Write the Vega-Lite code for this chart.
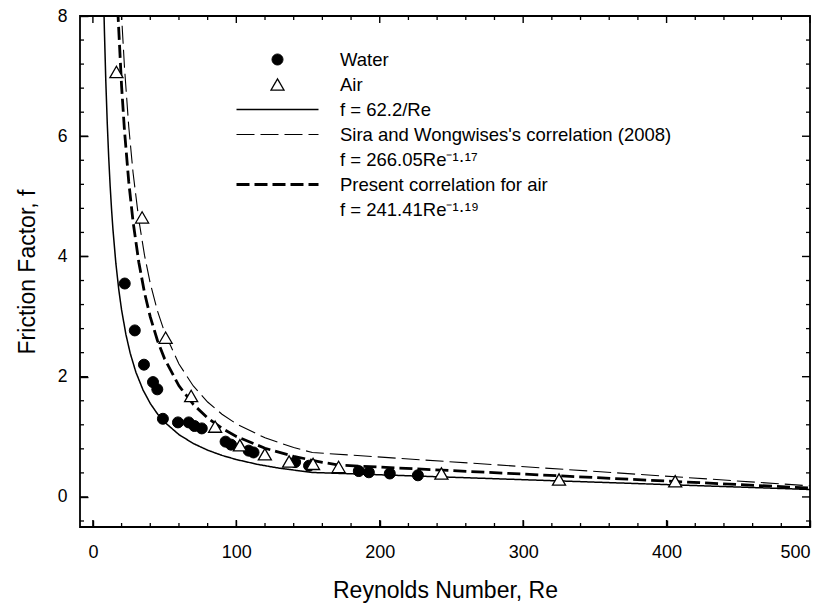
{
  "$schema": "https://vega.github.io/schema/vega-lite/v6.json",
  "width": 730,
  "height": 511,
  "autosize": {"type": "none"},
  "padding": {"left": 80, "top": 16, "right": 18, "bottom": 77},
  "config": {
    "font": "Liberation Sans",
    "view": {"stroke": "black", "strokeWidth": 1.8},
    "axis": {"domain": false, "grid": false, "ticks": true, "tickColor": "black", "tickWidth": 1.3, "labelColor": "black", "titleColor": "black", "titleFontWeight": "normal", "labelFont": "Liberation Sans", "titleFont": "Liberation Sans", "zindex": 2},
    "legend": {"clipHeight": 25, "rowPadding": 0, "labelOffset": 20, "labelFontSize": 18.5, "labelLimit": 600, "labelColor": "black", "labelFont": "Liberation Sans", "padding": 0, "zindex": 3}
  },
  "datasets": {
    "xmajor": [{"v": 0}, {"v": 100}, {"v": 200}, {"v": 300}, {"v": 400}, {"v": 500}],
    "xminor": [{"v": 20}, {"v": 40}, {"v": 60}, {"v": 80}, {"v": 120}, {"v": 140}, {"v": 160}, {"v": 180}, {"v": 220}, {"v": 240}, {"v": 260}, {"v": 280}, {"v": 320}, {"v": 340}, {"v": 360}, {"v": 380}, {"v": 420}, {"v": 440}, {"v": 460}, {"v": 480}],
    "ymajor": [{"v": 0}, {"v": 2}, {"v": 4}, {"v": 6}, {"v": 8}],
    "yminor": [{"v": -0.4}, {"v": 0.4}, {"v": 0.8}, {"v": 1.2}, {"v": 1.6}, {"v": 2.4}, {"v": 2.8}, {"v": 3.2}, {"v": 3.6}, {"v": 4.4}, {"v": 4.8}, {"v": 5.2}, {"v": 5.6}, {"v": 6.4}, {"v": 6.8}, {"v": 7.2}, {"v": 7.6}]
  },
  "data": {
    "values": [
      {"series": "Water", "Re": 22.2, "f": 3.55},
      {"series": "Water", "Re": 29.2, "f": 2.77},
      {"series": "Water", "Re": 35.6, "f": 2.20},
      {"series": "Water", "Re": 41.9, "f": 1.91},
      {"series": "Water", "Re": 44.9, "f": 1.79},
      {"series": "Water", "Re": 48.8, "f": 1.30},
      {"series": "Water", "Re": 59.3, "f": 1.24},
      {"series": "Water", "Re": 66.8, "f": 1.24},
      {"series": "Water", "Re": 70.8, "f": 1.18},
      {"series": "Water", "Re": 75.9, "f": 1.14},
      {"series": "Water", "Re": 92.5, "f": 0.92},
      {"series": "Water", "Re": 96.3, "f": 0.87},
      {"series": "Water", "Re": 108.6, "f": 0.77},
      {"series": "Water", "Re": 112, "f": 0.74},
      {"series": "Water", "Re": 141, "f": 0.58},
      {"series": "Water", "Re": 150.7, "f": 0.52},
      {"series": "Water", "Re": 185.4, "f": 0.43},
      {"series": "Water", "Re": 192.4, "f": 0.41},
      {"series": "Water", "Re": 207, "f": 0.39},
      {"series": "Water", "Re": 226.6, "f": 0.36},
      {"series": "Air", "Re": 16.4, "f": 7.07},
      {"series": "Air", "Re": 34.3, "f": 4.65},
      {"series": "Air", "Re": 50.7, "f": 2.65},
      {"series": "Air", "Re": 68.5, "f": 1.68},
      {"series": "Air", "Re": 85.2, "f": 1.17},
      {"series": "Air", "Re": 102.5, "f": 0.86},
      {"series": "Air", "Re": 119.9, "f": 0.71},
      {"series": "Air", "Re": 136.8, "f": 0.59},
      {"series": "Air", "Re": 153.5, "f": 0.55},
      {"series": "Air", "Re": 171.3, "f": 0.50},
      {"series": "Air", "Re": 243, "f": 0.39},
      {"series": "Air", "Re": 325, "f": 0.29},
      {"series": "Air", "Re": 406, "f": 0.26},
      {"series": "f = 62.2/Re", "Re": 7.5, "f": 8.293},
      {"series": "f = 62.2/Re", "Re": 8, "f": 7.775},
      {"series": "f = 62.2/Re", "Re": 9, "f": 6.911},
      {"series": "f = 62.2/Re", "Re": 10, "f": 6.22},
      {"series": "f = 62.2/Re", "Re": 11, "f": 5.655},
      {"series": "f = 62.2/Re", "Re": 12, "f": 5.183},
      {"series": "f = 62.2/Re", "Re": 13, "f": 4.785},
      {"series": "f = 62.2/Re", "Re": 14, "f": 4.443},
      {"series": "f = 62.2/Re", "Re": 16, "f": 3.888},
      {"series": "f = 62.2/Re", "Re": 18, "f": 3.456},
      {"series": "f = 62.2/Re", "Re": 20, "f": 3.11},
      {"series": "f = 62.2/Re", "Re": 23, "f": 2.704},
      {"series": "f = 62.2/Re", "Re": 26, "f": 2.392},
      {"series": "f = 62.2/Re", "Re": 30, "f": 2.073},
      {"series": "f = 62.2/Re", "Re": 35, "f": 1.777},
      {"series": "f = 62.2/Re", "Re": 40, "f": 1.555},
      {"series": "f = 62.2/Re", "Re": 45, "f": 1.382},
      {"series": "f = 62.2/Re", "Re": 50, "f": 1.244},
      {"series": "f = 62.2/Re", "Re": 60, "f": 1.037},
      {"series": "f = 62.2/Re", "Re": 70, "f": 0.889},
      {"series": "f = 62.2/Re", "Re": 80, "f": 0.778},
      {"series": "f = 62.2/Re", "Re": 90, "f": 0.691},
      {"series": "f = 62.2/Re", "Re": 100, "f": 0.622},
      {"series": "f = 62.2/Re", "Re": 115, "f": 0.541},
      {"series": "f = 62.2/Re", "Re": 130, "f": 0.478},
      {"series": "f = 62.2/Re", "Re": 153, "f": 0.407},
      {"series": "f = 62.2/Re", "Re": 500, "f": 0.124},
      {"series": "Sira and Wongwises's correlation (2008)", "Re": 19.5, "f": 8.235},
      {"series": "Sira and Wongwises's correlation (2008)", "Re": 20, "f": 7.995},
      {"series": "Sira and Wongwises's correlation (2008)", "Re": 22, "f": 7.152},
      {"series": "Sira and Wongwises's correlation (2008)", "Re": 25, "f": 6.157},
      {"series": "Sira and Wongwises's correlation (2008)", "Re": 28, "f": 5.393},
      {"series": "Sira and Wongwises's correlation (2008)", "Re": 32, "f": 4.613},
      {"series": "Sira and Wongwises's correlation (2008)", "Re": 36, "f": 4.018},
      {"series": "Sira and Wongwises's correlation (2008)", "Re": 40, "f": 3.553},
      {"series": "Sira and Wongwises's correlation (2008)", "Re": 45, "f": 3.095},
      {"series": "Sira and Wongwises's correlation (2008)", "Re": 50, "f": 2.736},
      {"series": "Sira and Wongwises's correlation (2008)", "Re": 60, "f": 2.211},
      {"series": "Sira and Wongwises's correlation (2008)", "Re": 70, "f": 1.846},
      {"series": "Sira and Wongwises's correlation (2008)", "Re": 80, "f": 1.579},
      {"series": "Sira and Wongwises's correlation (2008)", "Re": 90, "f": 1.376},
      {"series": "Sira and Wongwises's correlation (2008)", "Re": 100, "f": 1.216},
      {"series": "Sira and Wongwises's correlation (2008)", "Re": 120, "f": 0.983},
      {"series": "Sira and Wongwises's correlation (2008)", "Re": 140, "f": 0.821},
      {"series": "Sira and Wongwises's correlation (2008)", "Re": 153, "f": 0.739},
      {"series": "Sira and Wongwises's correlation (2008)", "Re": 500, "f": 0.185},
      {"series": "Present correlation for air", "Re": 17.3, "f": 8.118},
      {"series": "Present correlation for air", "Re": 20, "f": 6.832},
      {"series": "Present correlation for air", "Re": 22, "f": 6.099},
      {"series": "Present correlation for air", "Re": 25, "f": 5.239},
      {"series": "Present correlation for air", "Re": 28, "f": 4.578},
      {"series": "Present correlation for air", "Re": 32, "f": 3.905},
      {"series": "Present correlation for air", "Re": 36, "f": 3.395},
      {"series": "Present correlation for air", "Re": 40, "f": 2.994},
      {"series": "Present correlation for air", "Re": 45, "f": 2.603},
      {"series": "Present correlation for air", "Re": 50, "f": 2.297},
      {"series": "Present correlation for air", "Re": 60, "f": 1.848},
      {"series": "Present correlation for air", "Re": 70, "f": 1.539},
      {"series": "Present correlation for air", "Re": 80, "f": 1.312},
      {"series": "Present correlation for air", "Re": 90, "f": 1.141},
      {"series": "Present correlation for air", "Re": 100, "f": 1.007},
      {"series": "Present correlation for air", "Re": 120, "f": 0.810},
      {"series": "Present correlation for air", "Re": 140, "f": 0.675},
      {"series": "Present correlation for air", "Re": 160, "f": 0.575},
      {"series": "Present correlation for air", "Re": 171.5, "f": 0.530},
      {"series": "Present correlation for air", "Re": 500, "f": 0.148}
    ]
  },
  "layer": [
    {
      "transform": [{"filter": {"field": "series", "equal": "f = 62.2/Re"}}],
      "mark": {"type": "line", "color": "black", "clip": true},
      "encoding": {
        "x": {"field": "Re", "type": "quantitative", "scale": {"domain": [-9, 500], "nice": false, "zero": false},
              "axis": {"orient": "bottom", "values": [0, 100, 200, 300, 400, 500], "ticks": true, "offset": -7, "tickSize": 7, "tickColor": "black", "tickWidth": 1.4, "labelPadding": 16, "labelFontSize": 18, "title": "Reynolds Number, Re", "titleFontSize": 23, "titleBaseline": "alphabetic", "titleY": 77}},
        "y": {"field": "f", "type": "quantitative", "scale": {"domain": [-0.5, 8], "nice": false, "zero": false},
              "axis": {"orient": "left", "values": [0, 2, 4, 6, 8], "ticks": true, "offset": -8, "tickSize": 8, "tickColor": "black", "tickWidth": 1.4, "labelPadding": 13, "labelFontSize": 17.5, "title": "Friction Factor, f", "titleFontSize": 23, "titleBaseline": "alphabetic", "titleX": -54}},
        "strokeDash": {"field": "series", "type": "nominal",
          "scale": {"domain": ["Water", "Air", "f = 62.2/Re", "Sira and Wongwises's correlation (2008)", "f = 266.05Re⁻¹·¹⁷", "Present correlation for air", "f = 241.41Re⁻¹·¹⁹"],
                    "range": [[1, 0], [1, 0], [1, 0], [18, 6], [1, 0], [13, 5], [1, 0]]},
          "legend": {"orient": "none", "legendX": 155, "legendY": 31, "title": null}},
        "strokeWidth": {"field": "series", "type": "nominal",
          "scale": {"type": "ordinal", "domain": ["Water", "Air", "f = 62.2/Re", "Sira and Wongwises's correlation (2008)", "f = 266.05Re⁻¹·¹⁷", "Present correlation for air", "f = 241.41Re⁻¹·¹⁹"],
                    "range": [1, 1.3, 1.5, 1.1, 0, 2.8, 0]},
          "legend": {"orient": "none", "legendX": 155, "legendY": 31, "title": null}}
      }
    },
    {
      "data": {"name": "xmajor"},
      "mark": {"type": "tick", "orient": "vertical", "size": 7, "thickness": 1.4, "color": "black", "opacity": 1, "yOffset": -3.5},
      "encoding": {
        "x": {"field": "v", "type": "quantitative", "scale": {"domain": [-9, 500], "nice": false, "zero": false}, "axis": null},
        "y": {"datum": -0.5, "type": "quantitative", "scale": {"domain": [-0.5, 8], "nice": false, "zero": false}, "axis": null}
      }
    },
    {
      "data": {"name": "xmajor"},
      "mark": {"type": "tick", "orient": "vertical", "size": 7, "thickness": 1.4, "color": "black", "opacity": 1, "yOffset": 3.5},
      "encoding": {
        "x": {"field": "v", "type": "quantitative", "scale": {"domain": [-9, 500], "nice": false, "zero": false}, "axis": null},
        "y": {"datum": 8, "type": "quantitative", "scale": {"domain": [-0.5, 8], "nice": false, "zero": false}, "axis": null}
      }
    },
    {
      "data": {"name": "xminor"},
      "mark": {"type": "tick", "orient": "vertical", "size": 4, "thickness": 1.3, "color": "black", "opacity": 1, "yOffset": -2},
      "encoding": {
        "x": {"field": "v", "type": "quantitative", "scale": {"domain": [-9, 500], "nice": false, "zero": false}, "axis": null},
        "y": {"datum": -0.5, "type": "quantitative", "scale": {"domain": [-0.5, 8], "nice": false, "zero": false}, "axis": null}
      }
    },
    {
      "data": {"name": "xminor"},
      "mark": {"type": "tick", "orient": "vertical", "size": 4, "thickness": 1.3, "color": "black", "opacity": 1, "yOffset": 2},
      "encoding": {
        "x": {"field": "v", "type": "quantitative", "scale": {"domain": [-9, 500], "nice": false, "zero": false}, "axis": null},
        "y": {"datum": 8, "type": "quantitative", "scale": {"domain": [-0.5, 8], "nice": false, "zero": false}, "axis": null}
      }
    },
    {
      "data": {"name": "ymajor"},
      "mark": {"type": "tick", "orient": "horizontal", "size": 8, "thickness": 1.4, "color": "black", "opacity": 1, "xOffset": 4},
      "encoding": {
        "x": {"datum": -9, "type": "quantitative", "scale": {"domain": [-9, 500], "nice": false, "zero": false}, "axis": null},
        "y": {"field": "v", "type": "quantitative", "scale": {"domain": [-0.5, 8], "nice": false, "zero": false}, "axis": null}
      }
    },
    {
      "data": {"name": "ymajor"},
      "mark": {"type": "tick", "orient": "horizontal", "size": 8, "thickness": 1.4, "color": "black", "opacity": 1, "xOffset": -4},
      "encoding": {
        "x": {"datum": 500, "type": "quantitative", "scale": {"domain": [-9, 500], "nice": false, "zero": false}, "axis": null},
        "y": {"field": "v", "type": "quantitative", "scale": {"domain": [-0.5, 8], "nice": false, "zero": false}, "axis": null}
      }
    },
    {
      "data": {"name": "yminor"},
      "mark": {"type": "tick", "orient": "horizontal", "size": 4, "thickness": 1.3, "color": "black", "opacity": 1, "xOffset": 2},
      "encoding": {
        "x": {"datum": -9, "type": "quantitative", "scale": {"domain": [-9, 500], "nice": false, "zero": false}, "axis": null},
        "y": {"field": "v", "type": "quantitative", "scale": {"domain": [-0.5, 8], "nice": false, "zero": false}, "axis": null}
      }
    },
    {
      "data": {"name": "yminor"},
      "mark": {"type": "tick", "orient": "horizontal", "size": 4, "thickness": 1.3, "color": "black", "opacity": 1, "xOffset": -2},
      "encoding": {
        "x": {"datum": 500, "type": "quantitative", "scale": {"domain": [-9, 500], "nice": false, "zero": false}, "axis": null},
        "y": {"field": "v", "type": "quantitative", "scale": {"domain": [-0.5, 8], "nice": false, "zero": false}, "axis": null}
      }
    },
    {
      "transform": [{"filter": {"field": "series", "equal": "Sira and Wongwises's correlation (2008)"}}],
      "mark": {"type": "line", "color": "black", "clip": true},
      "encoding": {
        "x": {"field": "Re", "type": "quantitative", "scale": {"domain": [-9, 500], "nice": false, "zero": false}, "axis": null},
        "y": {"field": "f", "type": "quantitative", "scale": {"domain": [-0.5, 8], "nice": false, "zero": false}, "axis": null},
        "strokeDash": {"field": "series", "type": "nominal",
          "scale": {"domain": ["Water", "Air", "f = 62.2/Re", "Sira and Wongwises's correlation (2008)", "f = 266.05Re⁻¹·¹⁷", "Present correlation for air", "f = 241.41Re⁻¹·¹⁹"],
                    "range": [[1, 0], [1, 0], [1, 0], [18, 6], [1, 0], [13, 5], [1, 0]]},
          "legend": {"orient": "none", "legendX": 155, "legendY": 31, "title": null}},
        "strokeWidth": {"field": "series", "type": "nominal",
          "scale": {"type": "ordinal", "domain": ["Water", "Air", "f = 62.2/Re", "Sira and Wongwises's correlation (2008)", "f = 266.05Re⁻¹·¹⁷", "Present correlation for air", "f = 241.41Re⁻¹·¹⁹"],
                    "range": [1, 1.3, 1.5, 1.1, 0, 2.8, 0]},
          "legend": {"orient": "none", "legendX": 155, "legendY": 31, "title": null}}
      }
    },
    {
      "transform": [{"filter": {"field": "series", "equal": "Present correlation for air"}}],
      "mark": {"type": "line", "color": "black", "clip": true},
      "encoding": {
        "x": {"field": "Re", "type": "quantitative", "scale": {"domain": [-9, 500], "nice": false, "zero": false}, "axis": null},
        "y": {"field": "f", "type": "quantitative", "scale": {"domain": [-0.5, 8], "nice": false, "zero": false}, "axis": null},
        "strokeDash": {"field": "series", "type": "nominal",
          "scale": {"domain": ["Water", "Air", "f = 62.2/Re", "Sira and Wongwises's correlation (2008)", "f = 266.05Re⁻¹·¹⁷", "Present correlation for air", "f = 241.41Re⁻¹·¹⁹"],
                    "range": [[1, 0], [1, 0], [1, 0], [18, 6], [1, 0], [13, 5], [1, 0]]},
          "legend": {"orient": "none", "legendX": 155, "legendY": 31, "title": null}},
        "strokeWidth": {"field": "series", "type": "nominal",
          "scale": {"type": "ordinal", "domain": ["Water", "Air", "f = 62.2/Re", "Sira and Wongwises's correlation (2008)", "f = 266.05Re⁻¹·¹⁷", "Present correlation for air", "f = 241.41Re⁻¹·¹⁹"],
                    "range": [1, 1.3, 1.5, 1.1, 0, 2.8, 0]},
          "legend": {"orient": "none", "legendX": 155, "legendY": 31, "title": null}}
      }
    },
    {
      "transform": [{"filter": {"field": "series", "equal": "Water"}}],
      "mark": {"type": "point", "stroke": "black", "strokeWidth": 1, "opacity": 1},
      "encoding": {
        "x": {"field": "Re", "type": "quantitative", "scale": {"domain": [-9, 500], "nice": false, "zero": false}, "axis": null},
        "y": {"field": "f", "type": "quantitative", "scale": {"domain": [-0.5, 8], "nice": false, "zero": false}, "axis": null},
        "shape": {"field": "series", "type": "nominal",
          "scale": {"domain": ["Water", "Air", "f = 62.2/Re", "Sira and Wongwises's correlation (2008)", "f = 266.05Re⁻¹·¹⁷", "Present correlation for air", "f = 241.41Re⁻¹·¹⁹"],
                    "range": ["circle", "triangle-up", "stroke", "stroke", "stroke", "stroke", "stroke"]},
          "legend": {"orient": "none", "legendX": 155, "legendY": 31, "title": null, "encoding": {"symbols": {"update": {"fill": {"scale": "fill", "field": "value"}}}}}},
        "fill": {"field": "series", "type": "nominal",
          "scale": {"domain": ["Water", "Air", "f = 62.2/Re", "Sira and Wongwises's correlation (2008)", "f = 266.05Re⁻¹·¹⁷", "Present correlation for air", "f = 241.41Re⁻¹·¹⁹"],
                    "range": ["black", "white", "transparent", "transparent", "transparent", "transparent", "transparent"]},
          "legend": {"orient": "none", "legendX": 155, "legendY": 31, "title": null, "encoding": {"symbols": {"update": {"fill": {"scale": "fill", "field": "value"}}}}}},
        "size": {"field": "series", "type": "nominal",
          "scale": {"type": "ordinal", "domain": ["Water", "Air", "f = 62.2/Re", "Sira and Wongwises's correlation (2008)", "f = 266.05Re⁻¹·¹⁷", "Present correlation for air", "f = 241.41Re⁻¹·¹⁹"],
                    "range": [121, 170, 6724, 6724, 6724, 6724, 6724]},
          "legend": {"orient": "none", "legendX": 155, "legendY": 31, "title": null, "encoding": {"symbols": {"update": {"fill": {"scale": "fill", "field": "value"}}}}}}
      }
    },
    {
      "transform": [{"filter": {"field": "series", "equal": "Air"}}],
      "mark": {"type": "point", "stroke": "black", "strokeWidth": 1.3, "opacity": 1},
      "encoding": {
        "x": {"field": "Re", "type": "quantitative", "scale": {"domain": [-9, 500], "nice": false, "zero": false}, "axis": null},
        "y": {"field": "f", "type": "quantitative", "scale": {"domain": [-0.5, 8], "nice": false, "zero": false}, "axis": null},
        "shape": {"field": "series", "type": "nominal",
          "scale": {"domain": ["Water", "Air", "f = 62.2/Re", "Sira and Wongwises's correlation (2008)", "f = 266.05Re⁻¹·¹⁷", "Present correlation for air", "f = 241.41Re⁻¹·¹⁹"],
                    "range": ["circle", "triangle-up", "stroke", "stroke", "stroke", "stroke", "stroke"]},
          "legend": {"orient": "none", "legendX": 155, "legendY": 31, "title": null, "encoding": {"symbols": {"update": {"fill": {"scale": "fill", "field": "value"}}}}}},
        "fill": {"field": "series", "type": "nominal",
          "scale": {"domain": ["Water", "Air", "f = 62.2/Re", "Sira and Wongwises's correlation (2008)", "f = 266.05Re⁻¹·¹⁷", "Present correlation for air", "f = 241.41Re⁻¹·¹⁹"],
                    "range": ["black", "white", "transparent", "transparent", "transparent", "transparent", "transparent"]},
          "legend": {"orient": "none", "legendX": 155, "legendY": 31, "title": null, "encoding": {"symbols": {"update": {"fill": {"scale": "fill", "field": "value"}}}}}},
        "size": {"field": "series", "type": "nominal",
          "scale": {"type": "ordinal", "domain": ["Water", "Air", "f = 62.2/Re", "Sira and Wongwises's correlation (2008)", "f = 266.05Re⁻¹·¹⁷", "Present correlation for air", "f = 241.41Re⁻¹·¹⁹"],
                    "range": [121, 170, 6724, 6724, 6724, 6724, 6724]},
          "legend": {"orient": "none", "legendX": 155, "legendY": 31, "title": null, "encoding": {"symbols": {"update": {"fill": {"scale": "fill", "field": "value"}}}}}}
      }
    }
  ],
  "resolve": {"axis": {"x": "independent", "y": "independent"}}
}
